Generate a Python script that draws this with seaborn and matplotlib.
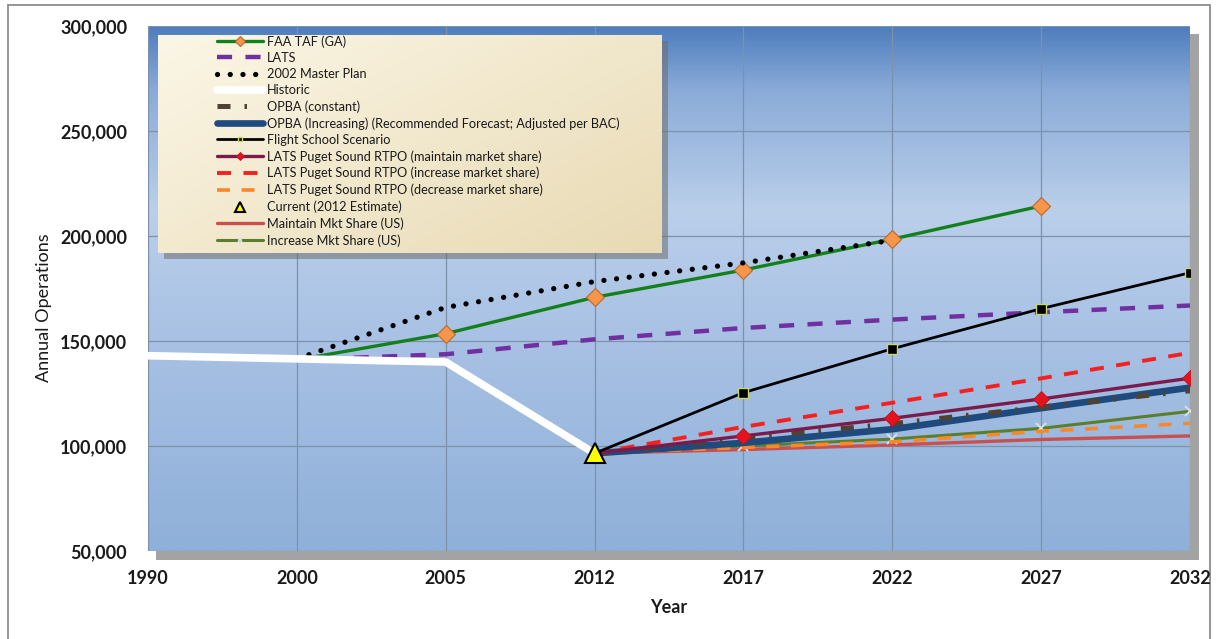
import numpy as np
import matplotlib
matplotlib.use("Agg")
import matplotlib.pyplot as plt
import seaborn as sns
from matplotlib.patches import Rectangle
from matplotlib.ticker import FuncFormatter

# ---- data -------------------------------------------------------------
years = ["1990", "2000", "2005", "2012", "2017", "2022", "2027", "2032"]
nan = np.nan
faa_taf = [nan, 141000, 153500, 170800, 183800, 198500, 214300, nan]
lats = [nan, 141000, 143700, 150800, 156200, 160200, 163700, 166900]
master_plan_2002 = [nan, 141500, 166000, 178300, 187200, 198000, nan, nan]
historic = [143000, 141500, 140000, 96500, nan, nan, nan, nan]
opba_constant = [nan, nan, nan, 96500, 103800, 110600, 118500, 126300]
opba_increasing = [nan, nan, nan, 96500, 101500, 108000, 118000, 127800]
flight_school = [nan, nan, nan, 96500, 125400, 146300, 165400, 182500]
rtpo_maintain = [nan, nan, nan, 96500, 104800, 113200, 122400, 132300]
rtpo_increase = [nan, nan, nan, 96500, 109100, 120600, 132200, 144400]
rtpo_decrease = [nan, nan, nan, 96500, 99300, 102000, 107000, 110800]
current_2012 = [nan, nan, nan, 96500, nan, nan, nan, nan]
maintain_us = [nan, nan, nan, 96500, 98300, 100500, 103100, 104800]
increase_us = [nan, nan, nan, 96500, 100000, 103300, 108400, 116500]
y_ticks = [50000, 100000, 150000, 200000, 250000, 300000]

# ---- style ------------------------------------------------------------
sns.set_theme(style="white")
plt.rcParams["font.family"] = ["Lato", "DejaVu Sans"]
W, H = 1217, 639
fig = plt.figure(figsize=(W / 100, H / 100), dpi=100)
fig.patch.set_facecolor("white")

ax_l, ax_r, ax_t, ax_b = 148, 1190, 26, 551
ax = fig.add_axes([ax_l / W, 1 - ax_b / H, (ax_r - ax_l) / W, (ax_b - ax_t) / H])

# drop shadow behind plot area
fig.patches.append(Rectangle((156 / W, 1 - 560 / H), (1199 - 156) / W, (560 - 34) / H,
                             transform=fig.transFigure, facecolor="#a3a3a3",
                             edgecolor="none", zorder=-1))
# outer frame
fig.patches.append(Rectangle((8 / W, -0.05), (1210 - 8) / W, 1 - 5 / H + 0.05,
                             transform=fig.transFigure, fill=False,
                             edgecolor="#8c8c8c", lw=1.3, zorder=-1))

x = np.arange(len(years))
ax.set_xlim(0, len(years) - 1)
ax.set_ylim(y_ticks[0], y_ticks[-1])

# vertical blue gradient for the plot area
stops = [0.0, 0.12, 0.35, 0.6, 1.0]
cols = np.array([[78, 125, 189], [138, 171, 216], [186, 207, 234],
                 [168, 193, 228], [143, 176, 217]]) / 255.0
t = np.linspace(0, 1, 256)
grad = np.stack([np.interp(t, stops, cols[:, i]) for i in range(3)], axis=-1)[:, None, :]
ax.imshow(grad, extent=(0, len(years) - 1, y_ticks[0], y_ticks[-1]),
          aspect="auto", origin="upper", zorder=-1, interpolation="bilinear")

series = [
    ("FAA TAF (GA)", faa_taf,
     dict(color="#13801b", lw=2.4, marker="D", markersize=9.5, markerfacecolor="#f7964a",
          markeredgecolor="#b8692e", markeredgewidth=0.8, markevery=[1, 2, 3, 4, 5]), 3.5),
    ("LATS", lats,
     dict(color="#7030a0", lw=3.2, ls=(0, (3.4, 3.0))), 3.0),
    ("2002 Master Plan", master_plan_2002,
     dict(color="black", lw=3.8, ls=(0, (0.01, 2.4)), dash_capstyle="round"), 3.6),
    ("Historic", historic,
     dict(color="white", lw=5.5, solid_joinstyle="miter"), 4.0),
    ("OPBA (constant)", opba_constant,
     dict(color="#4f4233", lw=3.6, ls=(0, (2.6, 2.8, 0.5, 4.0))), 3.15),
    ("OPBA (Increasing) (Recommended Forecast; Adjusted per BAC)", opba_increasing,
     dict(color="#1f4a7e", lw=4.8), 3.1),
    ("Flight School Scenario", flight_school,
     dict(color="black", lw=2.0, marker="s", markersize=6.5, markerfacecolor="black",
          markeredgecolor="#c8d86a", markeredgewidth=1.0, markevery=[1, 2, 3, 4]), 3.3),
    ("LATS Puget Sound RTPO (maintain market share)", rtpo_maintain,
     dict(color="#7b1b4b", lw=2.4, marker="D", markersize=8, markerfacecolor="#e3141e",
          markeredgecolor="#c01020", markeredgewidth=0.6, markevery=[1, 2, 3, 4]), 3.25),
    ("LATS Puget Sound RTPO (increase market share)", rtpo_increase,
     dict(color="#f52020", lw=2.8, ls=(0, (3.6, 3.2))), 3.2),
    ("LATS Puget Sound RTPO (decrease market share)", rtpo_decrease,
     dict(color="#f7892c", lw=2.6, ls=(0, (3.6, 3.2))), 3.02),
    ("Current (2012 Estimate)", current_2012,
     dict(color="#ffff00", ls="none", marker="^", markersize=15, markerfacecolor="#ffff00",
          markeredgecolor="black", markeredgewidth=1.5), 6.0),
    ("Maintain Mkt Share (US)", maintain_us,
     dict(color="#c9504e", lw=2.4), 3.0),
    ("Increase Mkt Share (US)", increase_us,
     dict(color="#5b7e2a", lw=2.2, marker="x", markersize=7, markeredgecolor="#dde2e8",
          markeredgewidth=1.3, markevery=[1, 2, 3, 4]), 3.01),
]

for label, vals, kw, z in series:
    sns.lineplot(x=x, y=vals, ax=ax, label=label, zorder=z, legend=False, **kw)

# axes cosmetics
for s in ax.spines.values():
    s.set_visible(False)
ax.set_axisbelow(True)
ax.grid(True, color="#7d91a9", lw=0.9)
ax.set_xticks(x)
ax.set_xticklabels(years)
ax.set_yticks(y_ticks)
ax.yaxis.set_major_formatter(FuncFormatter(lambda v, p: f"{int(v):,}"))
ax.tick_params(axis="both", length=0, labelsize=13, labelcolor="#1a1a1a")
ax.tick_params(axis="x", pad=14)
ax.tick_params(axis="y", pad=15)
for lab in ax.get_xticklabels() + ax.get_yticklabels():
    lab.set_fontweight("bold")
ax.set_xlabel("Year", fontsize=13, fontweight="bold", color="#1a1a1a", labelpad=8)
ax.set_ylabel("Annual Operations", fontsize=13, color="#1a1a1a")
ax.yaxis.set_label_coords((44 - ax_l) / (ax_r - ax_l), 1 - (308 - ax_t) / (ax_b - ax_t))
ax.yaxis.label.set_verticalalignment("center")

# legend panel with beige gradient and shadow
lx0, lx1 = (158 - ax_l) / (ax_r - ax_l), (662 - ax_l) / (ax_r - ax_l)
ly1, ly0 = 1 - (35 - ax_t) / (ax_b - ax_t), 1 - (253 - ax_t) / (ax_b - ax_t)
dx, dy = 6 / (ax_r - ax_l), 6 / (ax_b - ax_t)
ax.add_patch(Rectangle((lx0 + dx, ly0 - dy), lx1 - lx0, ly1 - ly0, transform=ax.transAxes,
                       facecolor="#6e6e6e", alpha=0.55, edgecolor="none", zorder=7))
gx = np.linspace(0, 1, 64)
gy = np.linspace(0, 1, 64)
gg = 0.55 * gx[None, :] + 0.45 * gy[:, None]
c0 = np.array([251, 246, 230]) / 255.0
c1 = np.array([232, 218, 180]) / 255.0
beige = c0[None, None, :] * (1 - gg[..., None]) + c1[None, None, :] * gg[..., None]
ax.imshow(beige, extent=(lx0, lx1, ly0, ly1), transform=ax.transAxes, aspect="auto",
          origin="upper", zorder=7.5, interpolation="bilinear")
ax.set_xlim(0, len(years) - 1)
ax.set_ylim(y_ticks[0], y_ticks[-1])

handles, labels = ax.get_legend_handles_labels()
leg = ax.legend(handles, labels, loc="upper left",
                bbox_to_anchor=((217 - ax_l) / (ax_r - ax_l), 1 - (35 - ax_t) / (ax_b - ax_t)),
                frameon=False, fontsize=9.2, handlelength=3.6, handletextpad=0.3,
                labelspacing=0.33, borderpad=0, borderaxespad=0, markerscale=0.5)
leg.set_zorder(8)
for txt in leg.get_texts():
    txt.set_color("#1a1a1a")

fig.savefig("out.png", dpi=100)
